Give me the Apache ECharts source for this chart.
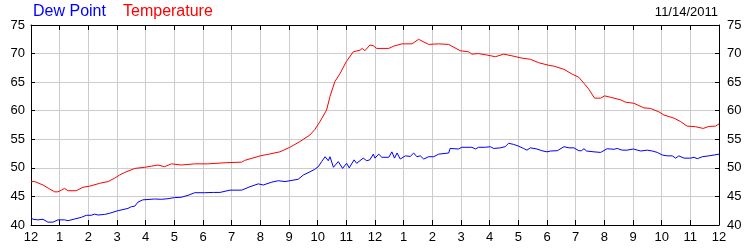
<!DOCTYPE html>
<html>
<head>
<meta charset="utf-8">
<script src="https://cdn.jsdelivr.net/npm/echarts@6/dist/echarts.min.js"></script>
<style>
html,body{margin:0;padding:0;background:#fff;}
#c{width:750px;height:250px;}
</style>
</head>
<body>
<div id="c"></div>
<script>
var hourLabels = ['12','1','2','3','4','5','6','7','8','9','10','11','12','1','2','3','4','5','6','7','8','9','10','11','12'];
var yTicks = [40, 45, 50, 55, 60, 65, 70, 75];
var dateText = '11/14/2011';

var tempHours = [0,0.13,0.42,0.65,0.83,0.94,1.06,1.17,1.29,1.58,1.81,2.05,2.4,2.69,2.92,3.09,3.27,3.62,3.97,4.2,4.43,4.66,4.9,5.24,5.71,6.17,6.8,7.35,7.45,8.0,8.3,8.68,9.03,9.38,9.73,9.9,10.08,10.31,10.43,10.6,10.78,11.0,11.24,11.48,11.55,11.65,11.82,11.93,12.06,12.48,12.65,12.94,13.29,13.52,13.87,14.22,14.57,14.97,15.27,15.38,15.61,15.9,16.2,16.49,16.78,17.13,17.42,17.71,18.06,18.24,18.59,18.88,19.11,19.29,19.46,19.66,19.87,20.01,20.22,20.57,20.74,21.03,21.38,21.61,21.9,22.08,22.43,22.66,22.89,23.18,23.45,23.65,23.88,24.0];
var tempValues = [47.6,47.6,47.0,46.3,45.8,45.8,46.1,46.4,46.0,46.0,46.6,46.8,47.3,47.6,48.2,48.75,49.2,49.9,50.1,50.3,50.5,50.2,50.7,50.5,50.7,50.7,50.9,51.0,51.3,52.1,52.4,52.8,53.6,54.6,55.75,56.7,58.1,60.1,62.5,65.1,66.5,68.6,70.3,70.6,70.9,70.5,71.5,71.4,70.9,70.9,71.3,71.7,71.7,72.5,71.6,71.7,71.6,70.5,70.3,69.9,70.0,69.75,69.45,69.9,69.6,69.2,69.0,68.4,67.95,67.8,67.25,66.4,65.85,64.8,63.75,62.2,62.2,62.6,62.35,61.9,61.5,61.3,60.5,60.4,59.8,59.25,58.7,58.1,57.3,57.2,56.9,57.25,57.3,57.7];

var dewHours = [0,0.07,0.24,0.42,0.59,0.77,0.94,1.17,1.29,1.52,1.76,1.93,2.1,2.22,2.34,2.57,2.74,2.8,3.03,3.38,3.5,3.62,3.73,3.9,4.31,4.55,4.78,5.01,5.24,5.48,5.71,6.06,6.36,6.42,6.59,6.94,7.35,7.64,7.93,8.1,8.4,8.63,8.86,9.03,9.32,9.5,9.73,9.9,10.02,10.14,10.26,10.37,10.43,10.55,10.72,10.87,11.01,11.1,11.27,11.36,11.59,11.71,11.82,11.94,12.0,12.13,12.24,12.48,12.59,12.68,12.77,12.88,13.06,13.23,13.35,13.46,13.58,13.7,13.87,14.05,14.22,14.28,14.57,14.62,14.91,15.03,15.38,15.5,15.61,15.85,16.02,16.14,16.37,16.54,16.66,16.84,17.01,17.18,17.3,17.42,17.65,17.82,18.0,18.13,18.36,18.59,18.77,18.94,19.11,19.2,19.29,19.38,19.64,19.87,20.1,20.34,20.45,20.62,20.8,21.01,21.27,21.5,21.67,21.85,22.02,22.19,22.37,22.49,22.6,22.78,23.01,23.13,23.24,23.42,23.65,23.83,24.0];
var dewValues = [41.3,41.0,40.9,41.0,40.5,40.5,40.9,40.9,40.75,41.05,41.35,41.7,41.7,41.9,41.75,41.85,42.05,42.3,42.5,42.9,43.2,43.3,44.0,44.4,44.55,44.5,44.6,44.8,44.85,45.2,45.65,45.65,45.7,45.4,45.7,46.1,46.1,46.7,47.2,47.0,47.5,47.75,47.6,47.75,48.0,48.75,49.3,49.75,50.2,51.1,51.95,51.25,51.95,50.1,51.1,49.9,50.8,50.0,51.4,50.8,51.7,51.25,51.4,52.4,51.7,52.4,51.85,51.85,52.8,51.7,52.6,51.55,52.1,52.0,52.6,51.95,52.1,51.55,51.95,51.95,52.4,52.6,52.6,53.4,53.3,53.6,53.6,53.3,53.6,53.6,53.7,53.4,53.5,53.7,54.3,54.1,53.8,53.4,53.1,53.5,53.3,53.0,52.8,52.95,53.0,53.7,53.5,53.5,53.0,53.0,53.35,52.95,52.8,52.7,53.35,53.25,53.4,53.1,53.1,53.3,52.95,53.1,52.95,52.7,52.25,52.1,52.1,51.7,52.1,51.7,51.7,51.85,51.6,51.95,52.1,52.25,52.4];

function pairs(xs, ys){ var out=[]; for(var i=0;i<xs.length;i++) out.push([xs[i], ys[i]]); return out; }

var FONT = 'Arial, "Liberation Sans", sans-serif';
var chart = echarts.init(document.getElementById('c'), null, {renderer:'canvas'});
var axisCommon = {
  axisLine:{show:true, onZero:false, lineStyle:{color:'#000', width:1}},
};
chart.setOption({
  animation:false,
  backgroundColor:'#fff',
  grid:{left:31, right:31, top:25, bottom:25, containLabel:false, outerBoundsMode:'none'},
  graphic:[
    {type:'text', left:33, top:4, style:{text:'Dew Point', fill:'#0000ff', font:'16px ' + FONT}},
    {type:'text', left:123, top:4, style:{text:'Temperature', fill:'#ff0000', font:'16px ' + FONT}},
    {type:'text', right:32, top:6, style:{text:dateText, fill:'#000', font:'13px ' + FONT}}
  ],
  xAxis:[
    {type:'value', position:'bottom', min:0, max:24, interval:1,
     axisLine:{show:true, onZero:false, lineStyle:{color:'#000'}},
     axisTick:{show:true, inside:true, length:5, lineStyle:{color:'#000'}},
     axisLabel:{show:true, margin:6, color:'#000', fontSize:13, fontFamily:FONT,
       formatter:function(v){ return hourLabels[Math.round(v)]; }},
     splitLine:{show:true, lineStyle:{color:'#cccccc', width:1}}},
    {type:'value', position:'top', min:0, max:24, interval:1,
     axisLine:{show:true, onZero:false, lineStyle:{color:'#000'}},
     axisTick:{show:true, inside:true, length:5, lineStyle:{color:'#000'}},
     axisLabel:{show:false}, splitLine:{show:false}}
  ],
  yAxis:[
    {type:'value', position:'left', min:yTicks[0], max:yTicks[yTicks.length-1], interval:5,
     axisLine:{show:true, onZero:false, lineStyle:{color:'#000'}},
     axisTick:{show:true, inside:true, length:4, lineStyle:{color:'#000'}},
     axisLabel:{show:true, margin:6, color:'#000', fontSize:13, fontFamily:FONT},
     splitLine:{show:true, lineStyle:{color:'#cccccc', width:1}}},
    {type:'value', position:'right', min:yTicks[0], max:yTicks[yTicks.length-1], interval:5,
     axisLine:{show:true, onZero:false, lineStyle:{color:'#000'}},
     axisTick:{show:true, inside:true, length:4, lineStyle:{color:'#000'}},
     axisLabel:{show:true, margin:8, color:'#000', fontSize:13, fontFamily:FONT},
     splitLine:{show:false}}
  ],
  series:[
    {name:'Dew Point', type:'line', xAxisIndex:0, yAxisIndex:0, data:pairs(dewHours, dewValues),
     showSymbol:false, symbol:'none', lineStyle:{color:'#0000ff', width:1}, itemStyle:{color:'#0000ff'}},
    {name:'Temperature', type:'line', xAxisIndex:0, yAxisIndex:0, data:pairs(tempHours, tempValues),
     showSymbol:false, symbol:'none', lineStyle:{color:'#ff0000', width:1}, itemStyle:{color:'#ff0000'}}
  ]
});
</script>
</body>
</html>
